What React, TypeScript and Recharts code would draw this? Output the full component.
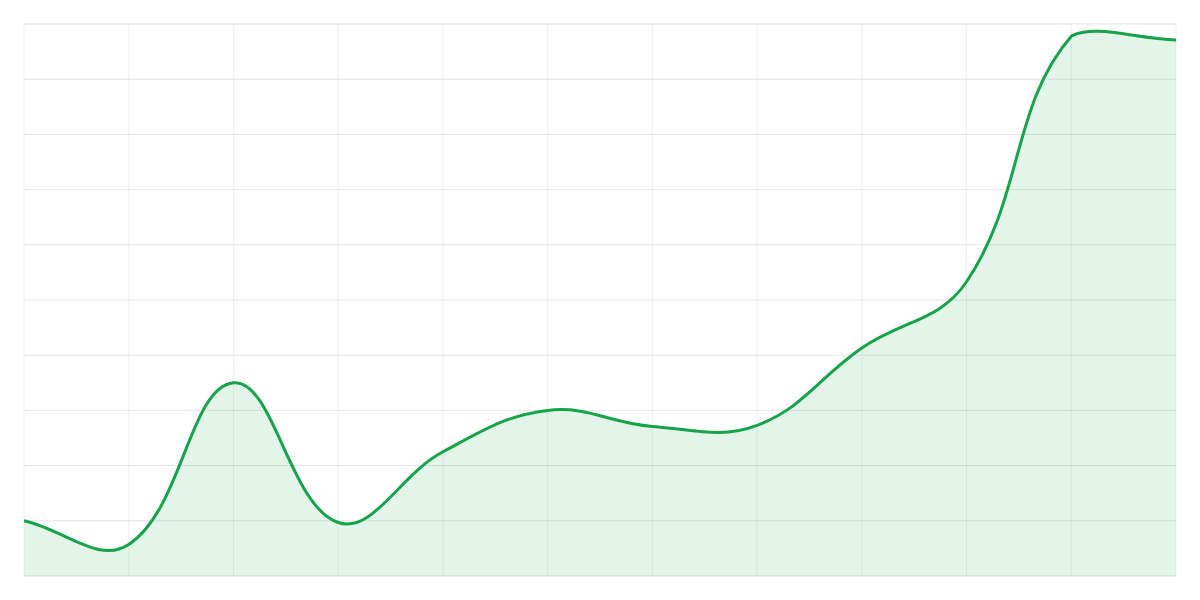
import React from 'react';
import { AreaChart, Area, XAxis, YAxis, CartesianGrid } from 'recharts';

const labels = ['1', '2', '3', '4', '5', '6', '7', '8', '9', '10', '11', '12'];
const values = [10, 5.7, 35, 9.7, 22.5, 30, 27.1, 27.3, 41.3, 53.3, 97.8, 97.1];
const yTicks = [0, 10, 20, 30, 40, 50, 60, 70, 80, 90, 100];

const data = labels.map((label, i) => ({ label, value: values[i] }));

const W = 1184;
const H = 584;
const M = 16;
const bounds = { left: M, right: W - M, top: M, bottom: H - M };

type P = { x: number; y: number };

function splineCurve(tension: number, b: typeof bounds) {
  return (context: any) => {
    let line = NaN;
    let pts: P[] = [];
    const inArea = (p: P) =>
      p.x > b.left - 0.5 && p.x < b.right + 0.5 && p.y > b.top - 0.5 && p.y < b.bottom + 0.5;
    const cap = (v: number, lo: number, hi: number) => Math.max(Math.min(v, hi), lo);
    return {
      areaStart() {
        line = 0;
      },
      areaEnd() {
        line = NaN;
      },
      lineStart() {
        pts = [];
      },
      point(x: number, y: number) {
        pts.push({ x: +x, y: +y });
      },
      lineEnd() {
        const n = pts.length;
        if (n > 0) {
          if (line) context.lineTo(pts[0].x, pts[0].y);
          else context.moveTo(pts[0].x, pts[0].y);
          const cps = pts.map((p, i) => {
            const prev = pts[i - 1] || p;
            const next = pts[i + 1] || p;
            const d01 = Math.hypot(p.x - prev.x, p.y - prev.y);
            const d12 = Math.hypot(next.x - p.x, next.y - p.y);
            let s01 = d01 / (d01 + d12);
            let s12 = d12 / (d01 + d12);
            if (isNaN(s01)) s01 = 0;
            if (isNaN(s12)) s12 = 0;
            const fa = tension * s01;
            const fb = tension * s12;
            return {
              cp1x: p.x - fa * (next.x - prev.x),
              cp1y: p.y - fa * (next.y - prev.y),
              cp2x: p.x + fb * (next.x - prev.x),
              cp2y: p.y + fb * (next.y - prev.y),
            };
          });
          for (let i = 0; i < n; i++) {
            const p = pts[i];
            if (!inArea(p)) continue;
            if (i > 0 && inArea(pts[i - 1])) {
              cps[i].cp1x = cap(cps[i].cp1x, b.left, b.right);
              cps[i].cp1y = cap(cps[i].cp1y, b.top, b.bottom);
            }
            if (i < n - 1 && inArea(pts[i + 1])) {
              cps[i].cp2x = cap(cps[i].cp2x, b.left, b.right);
              cps[i].cp2y = cap(cps[i].cp2y, b.top, b.bottom);
            }
          }
          for (let i = 1; i < n; i++) {
            context.bezierCurveTo(
              cps[i - 1].cp2x,
              cps[i - 1].cp2y,
              cps[i].cp1x,
              cps[i].cp1y,
              pts[i].x,
              pts[i].y
            );
          }
        }
        if (line || (line !== 0 && n === 1)) context.closePath();
        line = 1 - line;
      },
    };
  };
}

const curve = splineCurve(0.4, bounds);

export default function App() {
  return (
    <div style={{ width: W, height: H }}>
      <AreaChart width={W} height={H} data={data} margin={{ top: M, right: M, bottom: M, left: M }}>
        <CartesianGrid vertical={false} stroke="rgba(0,0,0,0.1)" />
        <CartesianGrid horizontal={false} stroke="rgba(0,0,0,0.06)" />
        <XAxis dataKey="label" hide interval={0} />
        <YAxis hide type="number" domain={[0, 100]} ticks={yTicks} />
        <Area
          type={curve as any}
          dataKey="value"
          stroke="#16a34a"
          strokeWidth={3}
          fill="#16a34a"
          fillOpacity={0.12}
          dot={false}
          activeDot={false}
          isAnimationActive={false}
        />
      </AreaChart>
    </div>
  );
}
